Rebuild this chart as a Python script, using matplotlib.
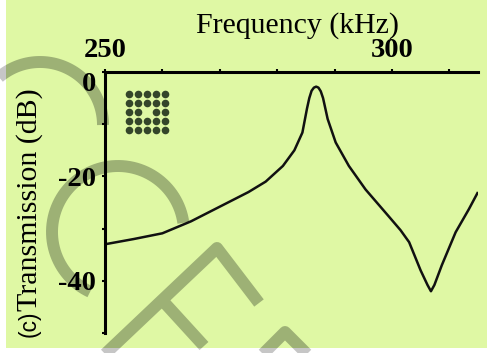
import numpy as np
import matplotlib
matplotlib.use("Agg")
import matplotlib.pyplot as plt
import matplotlib.transforms as mtransforms
from matplotlib.patches import Rectangle

# data
freq = [250, 255, 260, 265, 270, 275, 278, 281, 283, 284.4, 285.2, 285.6,
        286.0, 286.4, 286.8, 287.2, 287.6, 288.0, 288.8, 290.2, 292.5, 295.4,
        299.4, 301.5, 303.0, 305.0, 306.2, 306.8, 307.4, 308.7, 311.1, 313.4,
        314.9]
trans = [-33.0, -32.0, -30.9, -28.6, -25.8, -23.0, -21.0, -18.0, -15.0, -11.6,
         -7.0, -5.0, -3.6, -3.0, -2.8, -3.0, -3.7, -5.0, -9.0, -13.5, -18.0,
         -22.5, -27.6, -30.3, -32.6, -38.0, -40.8, -42.0, -40.8, -37.0, -30.7,
         -26.3, -23.2]

xticks_major = [250, 300]
xticks_minor = [260, 270, 280, 290, 310]
yticks_major = [0, -20, -40]
yticks_minor = [-10, -30, -50]

# unit cell picture: 5x5 rods, centre one removed
rod_rows, rod_cols = np.meshgrid(range(5), range(5))
keep = ~((rod_rows == 2) & (rod_cols == 2))

bg = "#dff8a4"
W, H = 487, 353

fig = plt.figure(figsize=(W / 100, H / 100), dpi=100, facecolor="white")
px = mtransforms.Affine2D().scale(1 / W, -1 / H).translate(0, 1) + fig.transFigure

rect = Rectangle((6, 0), W - 6, 348, transform=px, facecolor=bg,
                 edgecolor="none", zorder=-2)
fig.add_artist(rect)


# watermark strokes (pixel coordinates, y down)
def arc(cx, cy, r, t1, t2):
    t = np.radians(np.linspace(t1, t2, 80))
    return cx + r * np.cos(t), cy - r * np.sin(t)

strokes = [arc(40, 125, 63, 0, 150), arc(118, 232, 66, 8, 245),
           ([103, 217, 259], [356, 248, 303]),
           ([162, 204], [300, 346]),
           ([245, 285, 325], [372, 332, 372])]
for xs, ys in strokes:
    l1 = plt.Line2D(xs, ys, transform=px, color="#c6c6c6", lw=8.6,
                    solid_capstyle="butt", zorder=-3)
    fig.add_artist(l1)
    l2 = plt.Line2D(xs, ys, transform=px, color="#9db175", lw=8.6,
                    solid_capstyle="butt", zorder=-1)
    fig.add_artist(l2)
    l2.set_clip_path(rect)

ax = fig.add_axes([105 / W, 1 - 333 / H, 373 / W, 261 / H])
ax.set_facecolor("none")
ax.plot(freq, trans, color="#111111", lw=1.8, solid_joinstyle="round")

ax.set_xlim(250, 315)
ax.set_ylim(-50, 0)
for s in ["right", "bottom"]:
    ax.spines[s].set_visible(False)
for s in ["top", "left"]:
    ax.spines[s].set_linewidth(2.2)

ax.xaxis.tick_top()
ax.xaxis.set_label_position("top")
ax.set_xticks(xticks_major)
ax.set_xticks(xticks_minor, minor=True)
ax.set_yticks(yticks_major)
ax.set_yticks(yticks_minor, minor=True)
ax.tick_params(which="both", direction="out", length=2.5, width=1.5)
ax.tick_params(axis="x", pad=4)
ax.tick_params(axis="y", pad=4)

tick_font = dict(family="Liberation Serif", weight="bold", size=20.5)
ax.set_xticklabels([str(v) for v in xticks_major], fontdict=tick_font)
ax.set_yticklabels([str(v) for v in yticks_major], fontdict=tick_font)
ax.get_yticklabels()[0].set_verticalalignment("top")

ax.set_xlabel("Frequency (kHz)", family="Liberation Serif", size=21.5)
ax.xaxis.set_label_coords(0.517, 1.149)
ax.set_ylabel("Transmission (dB)", family="Liberation Serif", size=21.5)
ax.yaxis.set_label_coords(-0.166, 0.51)

fig.text(29 / W, 1 - 324 / H, "(c)", family="Liberation Sans", size=16.5,
         rotation=90, ha="center", va="center")

ins = fig.add_axes([124 / W, 1 - 134 / H, 45 / W, 45 / H])
ins.scatter(rod_cols[keep], rod_rows[keep], s=30, color="#34452a", linewidths=0)
ins.set_xlim(-0.5, 4.5)
ins.set_ylim(-0.5, 4.5)
ins.axis("off")

fig.savefig("out.png", dpi=100, facecolor="white")
